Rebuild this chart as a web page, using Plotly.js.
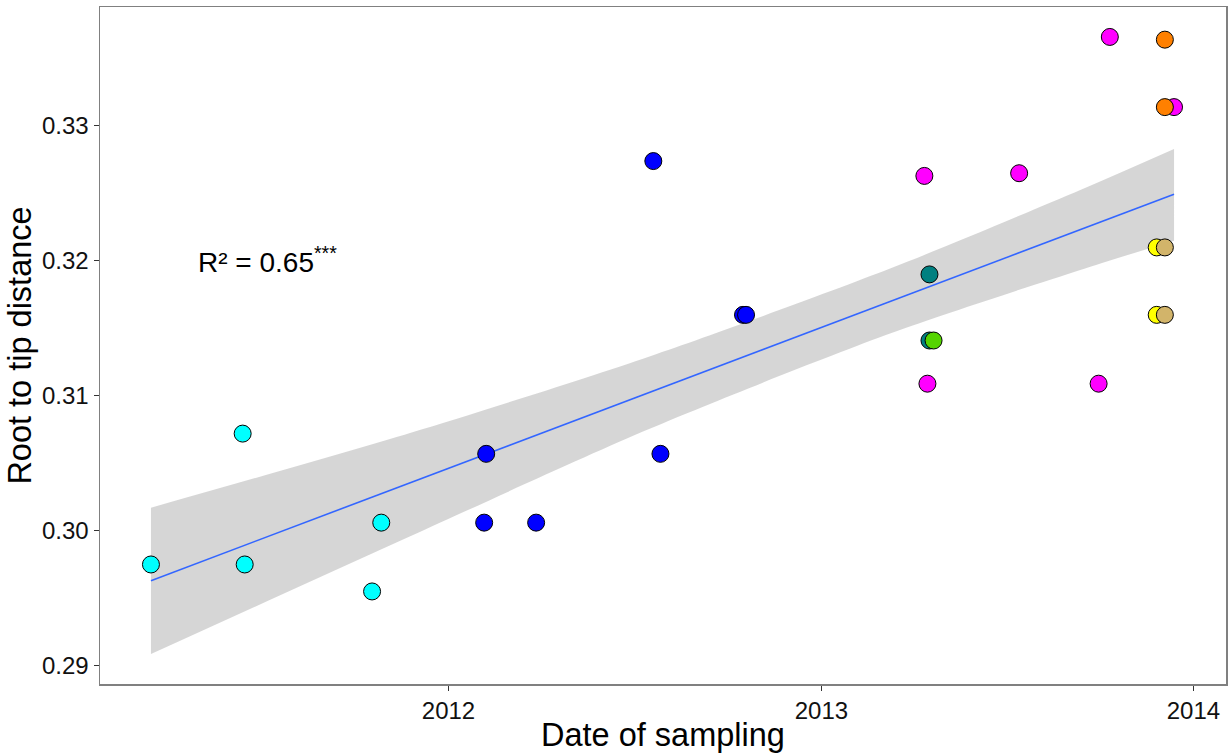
<!DOCTYPE html>
<html>
<head>
<meta charset="utf-8">
<script src="https://cdn.plot.ly/plotly-3.0.1.min.js"></script>
<style>html,body{margin:0;padding:0;background:#fff;}#chart{width:1231px;height:755px;}</style>
</head>
<body>
<div id="chart"></div>
<script>
// ---- data ----
const cyanDates = ['2011-03-15','2011-06-13','2011-06-15','2011-10-18','2011-10-27'];
const cyanVals  = [0.2975, 0.3072, 0.2975, 0.2955, 0.3006];

const blueDates = ['2012-02-05','2012-02-07','2012-03-27','2012-07-20','2012-07-27','2012-10-16','2012-10-19'];
const blueVals  = [0.3006, 0.3057, 0.3006, 0.3274, 0.3057, 0.3160, 0.3160];

const magentaDates = ['2013-04-12','2013-04-15','2013-07-14','2013-09-30','2013-10-11','2013-12-13'];
const magentaVals  = [0.3263, 0.3109, 0.3265, 0.3109, 0.3366, 0.3314];

const tealDates = ['2013-04-17','2013-04-17'];
const tealVals  = [0.3190, 0.3141];

const greenDates = ['2013-04-21'];
const greenVals  = [0.3141];

const yellowDates = ['2013-11-26','2013-11-26'];
const yellowVals  = [0.3210, 0.3160];

const orangeDates = ['2013-12-04','2013-12-04'];
const orangeVals  = [0.3364, 0.3314];

const tanDates = ['2013-12-04','2013-12-04'];
const tanVals  = [0.3210, 0.3160];

// linear fit and its 95% confidence band
const fitDates  = ['2011-03-15','2013-12-13'];
const fitVals   = [0.29630, 0.32494];
const bandDates = ['2011-03-15','2011-11-25','2012-07-17','2013-03-10','2013-09-12','2013-12-13'];
const bandLow   = [0.29086, 0.29961, 0.30757, 0.31463, 0.31933, 0.32150];
const bandHigh  = [0.30171, 0.30726, 0.31294, 0.31945, 0.32526, 0.32830];

const xTickVals  = ['2012-01-01','2013-01-01','2014-01-01'];
const xTickText  = ['2012','2013','2014'];
const yTickVals  = [0.29, 0.30, 0.31, 0.32, 0.33];
const yTickText  = ['0.29','0.30','0.31','0.32','0.33'];
const r2Label    = 'R² = 0.65<sup>***</sup>';

// ---- groups ----
const groups = [
  {d: cyanDates, v: cyanVals, c: '#00FFFF'},
  {d: blueDates, v: blueVals, c: '#0000FF'},
  {d: magentaDates, v: magentaVals, c: '#FF00FF'},
  {d: tealDates, v: tealVals, c: '#008080'},
  {d: greenDates, v: greenVals, c: '#55D400'},
  {d: yellowDates, v: yellowVals, c: '#FFFF00'},
  {d: orangeDates, v: orangeVals, c: '#FF8000'},
  {d: tanDates, v: tanVals, c: '#D2B46A'}
];

const traces = [];
traces.push({x: bandDates, y: bandLow, mode: 'lines', line: {width: 0, color: 'rgba(0,0,0,0)', shape: 'spline', smoothing: 0.8}, hoverinfo: 'skip', showlegend: false});
traces.push({x: bandDates, y: bandHigh, mode: 'lines', line: {width: 0, color: 'rgba(0,0,0,0)', shape: 'spline', smoothing: 0.8}, fill: 'tonexty', fillcolor: 'rgba(153,153,153,0.4)', hoverinfo: 'skip', showlegend: false});
traces.push({x: fitDates, y: fitVals, mode: 'lines', line: {width: 1.6, color: '#3366FF'}, showlegend: false});
groups.forEach(g => traces.push({
  x: g.d, y: g.v, mode: 'markers', type: 'scatter', showlegend: false,
  marker: {size: 17, color: g.c, line: {color: '#000', width: 1}}
}));

const font = 'Liberation Sans, Arial, Helvetica, sans-serif';
const layout = {
  width: 1231, height: 755,
  margin: {l: 100, r: 5, t: 7, b: 71},
  paper_bgcolor: '#fff', plot_bgcolor: '#fff',
  font: {family: font, color: '#000'},
  showlegend: false,
  xaxis: {
    type: 'date', range: ['2011-01-24', '2014-02-02'],
    tickvals: xTickVals, ticktext: xTickText,
    showgrid: false, zeroline: false,
    showline: true, linecolor: '#808080', linewidth: 1.5, mirror: true,
    ticks: 'outside', ticklen: 5, tickcolor: '#333', tickwidth: 1,
    tickfont: {size: 24, family: font, color: '#111'},
    title: {text: 'Date of sampling', font: {size: 32.5, family: font, color: '#000'}, standoff: 0}
  },
  yaxis: {
    range: [0.28864, 0.33882],
    tickvals: yTickVals, ticktext: yTickText,
    showgrid: false, zeroline: false,
    showline: true, linecolor: '#808080', linewidth: 1.5, mirror: true,
    ticks: 'outside', ticklen: 5, tickcolor: '#333', tickwidth: 1,
    tickfont: {size: 24, family: font, color: '#111'},
    title: {text: 'Root to tip distance', font: {size: 32.5, family: font, color: '#000'}, standoff: 0}
  },
  annotations: [{
    x: '2011-07-07', y: 0.3201, xref: 'x', yref: 'y',
    text: r2Label, showarrow: false, xanchor: 'center', yanchor: 'middle',
    font: {size: 28, family: font, color: '#000'}
  }]
};
Plotly.newPlot('chart', traces, layout, {displayModeBar: false, staticPlot: true});
</script>
</body>
</html>
